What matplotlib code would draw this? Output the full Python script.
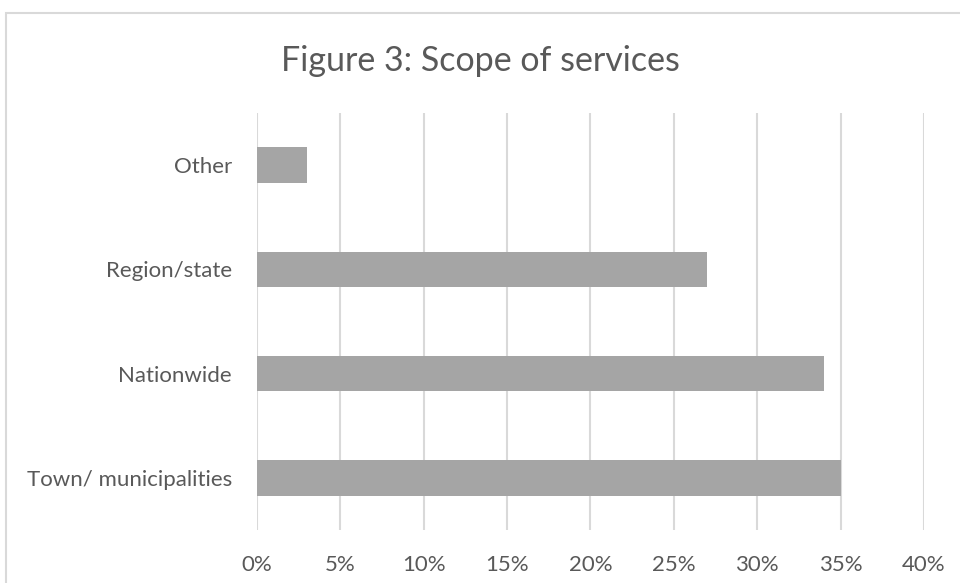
import matplotlib.pyplot as plt
from matplotlib.patches import Rectangle
from matplotlib.ticker import FuncFormatter

# ----- Data -----
categories = ['Town/ municipalities', 'Nationwide', 'Region/state', 'Other']
shares = [35, 34, 27, 3]
x_ticks = [0, 5, 10, 15, 20, 25, 30, 35, 40]

plt.rcParams['font.family'] = ['Lato', 'DejaVu Sans']
text_color = '#595959'

fig = plt.figure(figsize=(9.6, 5.83), dpi=100)
ax = fig.add_axes([0.2677, 0.0909, 0.6948, 0.7153])

ax.barh(range(len(categories)), shares, height=0.34, color='#A5A5A5', zorder=3)

ax.set_xlim(0, 40)
ax.set_ylim(-0.5, len(categories) - 0.5)
ax.set_xticks(x_ticks)
ax.xaxis.set_major_formatter(FuncFormatter(lambda v, _: f'{v:.0f}%'))
ax.set_yticks(range(len(categories)))
ax.set_yticklabels(categories)
ax.grid(axis='x', color='#D9D9D9', linewidth=1.5, zorder=0)
ax.tick_params(length=0, labelsize=16, colors=text_color)
ax.tick_params(axis='x', pad=18)
ax.tick_params(axis='y', pad=18)
for s in ax.spines.values():
    s.set_visible(False)

fig.text(0.5, 0.895, 'Figure 3: Scope of services', ha='center', va='center',
         fontsize=24.5, color=text_color)

# chart frame (cropped at the right and bottom)
fig.patches.append(Rectangle((6 / 960, -0.1), 1.2, (583 - 13) / 583 + 0.1,
                             transform=fig.transFigure, fill=False,
                             edgecolor='#D9D9D9', linewidth=1.5))

fig.savefig('out.png', dpi=100)
